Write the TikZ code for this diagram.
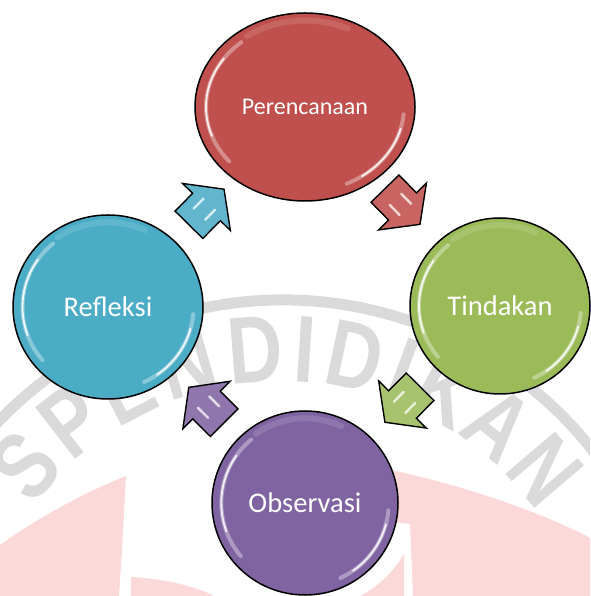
\documentclass[tikz,border=0pt]{standalone}
\usepackage{fontspec}
\setmainfont{Carlito}
\newfontfamily\wmfont{Liberation Sans}
\usetikzlibrary{shapes.geometric,calc}
\definecolor{cred}{RGB}{192,80,77}
\definecolor{cgreen}{RGB}{155,187,89}
\definecolor{cblue}{RGB}{75,172,198}
\definecolor{cpurple}{RGB}{128,100,162}
\definecolor{wmgray}{RGB}{218,218,218}
\definecolor{wmpink}{RGB}{251,217,217}
\tikzset{
  bubble/.style={ellipse, draw=black, line width=1.5pt, inner sep=0pt, text=white,
    font=\fontsize{28.5}{30}\selectfont},
  hl/.style={draw=white, line cap=round},
  wmletter/.style={text=wmgray, font=\wmfont\bfseries\fontsize{95}{95}\selectfont,
    inner sep=0pt, xscale=0.8},
  pics/barrow/.style={code={
    \fill[#1!88!white, draw=black, line width=1.4pt, line join=miter]
      (-25,-19.5) -- (0,-19.5) -- (0,-33.5) -- (25,0) -- (0,33.5) -- (0,19.5) -- (-25,19.5) -- cycle;
    \draw[white, opacity=0.75, line width=2.4pt, line cap=round] (-10,8) -- (4,8) (-10,-8) -- (4,-8);
  }},
}
\newcommand\glint[3]{%
  \draw[hl, line width=4pt, opacity=.35] (#1.center) ++(130:{.9*#2} and {.9*#3})
    arc[start angle=130, end angle=220, x radius={.9*#2}, y radius={.9*#3}];
  \draw[hl, line width=1.8pt, opacity=.85] (#1.center) ++(145:{.9*#2} and {.9*#3})
    arc[start angle=145, end angle=200, x radius={.9*#2}, y radius={.9*#3}];
  \draw[hl, line width=4pt, opacity=.35] (#1.center) ++(-5:{.9*#2} and {.9*#3})
    arc[start angle=-5, end angle=-65, x radius={.9*#2}, y radius={.9*#3}];
  \draw[hl, line width=1.8pt, opacity=.85] (#1.center) ++(-15:{.9*#2} and {.9*#3})
    arc[start angle=-15, end angle=-55, x radius={.9*#2}, y radius={.9*#3}];
  \draw[hl, line width=6pt, opacity=.12] (#1.center) ++(65:{.92*#2} and {.92*#3})
    arc[start angle=65, end angle=125, x radius={.92*#2}, y radius={.92*#3}];
}
\begin{document}
\begin{tikzpicture}[x=1pt, y=1pt]
\useasboundingbox (0,0) rectangle (590,596);
% watermark
\begin{scope}
  \clip (0,0) rectangle (590,596);
  \fill[wmpink] (0,51) .. controls (40,80) and (90,106) .. (126,120) -- (122,46) -- (119,0) -- (0,0) -- cycle;
  \fill[wmpink] (131,19) .. controls (165,17) and (195,10) .. (214,0) -- (131,0) -- cycle;
  \fill[wmpink] (380,128) .. controls (450,115) and (540,85) .. (590,58) -- (590,0) -- (413,0) -- (410,72) -- (380,76) -- cycle;
  \fill[wmpink] (404,42) .. controls (392,22) and (376,8) .. (360,0) -- (404,0) -- cycle;
  \draw[wmgray, line width=11] (283,-98) ++(15:394) arc[start angle=15, end angle=165, radius=394];
  \foreach \ch/\th [count=\i] in {S/-48.5, P/-37.8, E/-27.3, N/-16.2, D/-4.6, I/3.7, D/12.0, I/20.3, K/28.3, A/38.6, N/49.5}
    \node[rotate=-\th, wmletter] (wl\i) at ($(283,-98)+({90-\th}:345)$) {\ch};
\end{scope}
% circles
\node[bubble, fill=cred, minimum width=220, minimum height=188,
      font=\fontsize{24}{26}\selectfont] (P) at (305,489) {Perencanaan};
\node[bubble, fill=cgreen, minimum width=180, minimum height=176] (T) at (500,290) {Tindakan};
\node[bubble, fill=cpurple, minimum width=186, minimum height=184] (O) at (305,93) {Observasi};
\node[bubble, fill=cblue, minimum width=190, minimum height=184] (R) at (108,289) {Refleksi};
\glint{P}{110}{94}
\glint{T}{90}{88}
\glint{O}{93}{92}
\glint{R}{95}{92}
% arrows
\pic[rotate=-45.6] at ($(P)!0.5!(T)$) {barrow=cred};
\pic[rotate=-134.7] at ($(T)!0.5!(O)$) {barrow=cgreen};
\pic[rotate=135.1] at ($(O)!0.5!(R)$) {barrow=cpurple};
\pic[rotate=45.4] at ($(R)!0.5!(P)$) {barrow=cblue};
\end{tikzpicture}
\end{document}
